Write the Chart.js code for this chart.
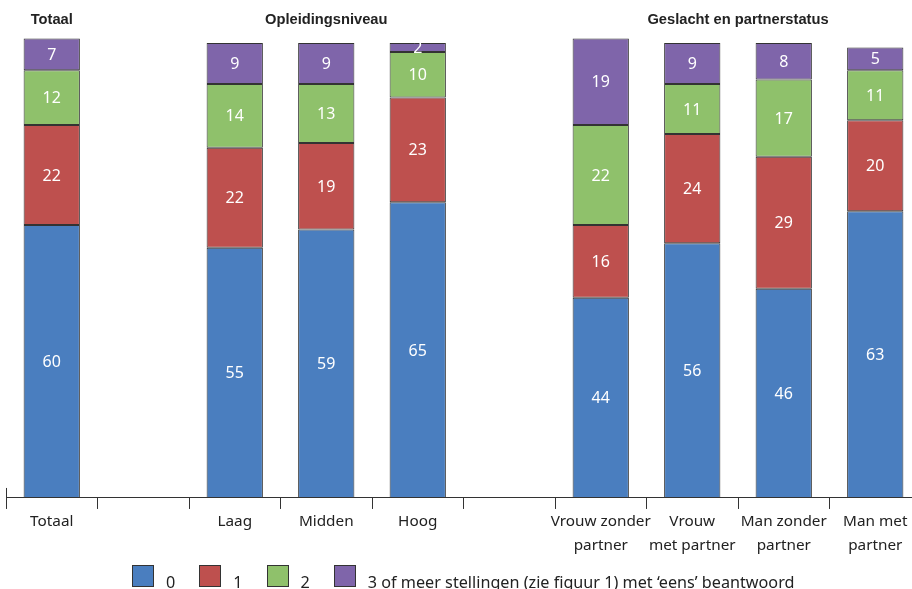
<!DOCTYPE html>
<html>
<head>
<meta charset="utf-8">
<script src="https://cdn.jsdelivr.net/npm/chart.js@4.4.1/dist/chart.umd.min.js"></script>
<style>
  html, body { margin: 0; padding: 0; background: #fff; overflow: hidden; }
  #wrap { position: relative; width: 921px; height: 589px; }
  #legend { position: absolute; left: 132px; top: 565px; display: flex; align-items: flex-start;
            font-family: "Noto Sans", sans-serif; font-size: 16.2px; color: #222; white-space: nowrap; }
  #legend .item { display: flex; align-items: flex-start; margin-right: 24px; }
  #legend .box { width: 20px; height: 20px; border: 1px solid #333; margin-right: 12px; }
  #legend .txt { line-height: 16px; margin-top: 9px; }
</style>
</head>
<body>
<div id="wrap">
  <canvas id="c" width="921" height="589"></canvas>
  <div id="legend"></div>
</div>
<script>
// Categories on the x axis (blank entries act as spacers between groups)
const categories = [
  'Totaal', '', 'Laag', 'Midden', 'Hoog', '',
  ['Vrouw zonder', 'partner'], ['Vrouw', 'met partner'], ['Man zonder', 'partner'], ['Man met', 'partner']
];

// Group headings and the category index they are centred on
const groupTitles = ['Totaal', 'Opleidingsniveau', 'Geslacht en partnerstatus'];
const groupCenters = [0, 3, 7.5];

// Share (%) per number of statements answered with 'eens'
const seriesNames = ['0', '1', '2', "3 of meer stellingen (zie figuur 1) met \u2018eens\u2019 beantwoord"];
const values0 = [60, null, 55, 59, 65, null, 44, 56, 46, 63];
const values1 = [22, null, 22, 19, 23, null, 16, 24, 29, 20];
const values2 = [12, null, 14, 13, 10, null, 22, 11, 17, 11];
const values3 = [7, null, 9, 9, 2, null, 19, 9, 8, 5];

const colors = ['#4a7ebf', '#be504e', '#8fc16b', '#7f65aa'];
const seriesValues = [values0, values1, values2, values3];

const FONT = '"Noto Sans", sans-serif';

const datasets = seriesValues.map((vals, i) => ({
  label: seriesNames[i],
  data: vals,
  backgroundColor: colors[i],
  borderColor: '#333',
  borderWidth: 1,
  borderSkipped: false,
  barPercentage: 0.615,
  categoryPercentage: 1,
  clip: false
}));

// White value labels in the middle of each segment
const valueLabels = {
  id: 'valueLabels',
  afterDatasetsDraw(chart) {
    const ctx = chart.ctx;
    ctx.save();
    ctx.fillStyle = '#fff';
    ctx.font = '16px ' + FONT;
    ctx.textAlign = 'center';
    ctx.textBaseline = 'middle';
    chart.data.datasets.forEach((ds, di) => {
      const meta = chart.getDatasetMeta(di);
      meta.data.forEach((el, i) => {
        const v = ds.data[i];
        if (v === null || v === undefined) return;
        ctx.fillText(String(v), el.x, (el.y + el.base) / 2 + 1);
      });
    });
    ctx.restore();
  }
};

// Group headings above the bars and the short stub at the axis origin
const decorations = {
  id: 'decorations',
  afterDraw(chart) {
    const ctx = chart.ctx;
    const xs = chart.scales.x;
    const area = chart.chartArea;
    ctx.save();
    ctx.fillStyle = '#222';
    ctx.font = 'bold 14.7px "Liberation Sans", Arial, sans-serif';
    ctx.textAlign = 'center';
    ctx.textBaseline = 'middle';
    groupTitles.forEach((t, i) => {
      const c = groupCenters[i];
      const lo = Math.floor(c), hi = Math.ceil(c);
      const x = (xs.getPixelForValue(lo) + xs.getPixelForValue(hi)) / 2;
      ctx.fillText(t, x, 20);
    });
    ctx.strokeStyle = '#333';
    ctx.lineWidth = 1;
    ctx.beginPath();
    ctx.moveTo(Math.round(area.left) + 0.5, area.bottom - 10);
    ctx.lineTo(Math.round(area.left) + 0.5, area.bottom);
    ctx.stroke();
    ctx.restore();
  }
};

const chart = new Chart(document.getElementById('c'), {
  type: 'bar',
  data: { labels: categories, datasets },
  options: {
    responsive: false,
    animation: false,
    layout: { padding: { left: 6, right: 0, top: 43, bottom: 30 } },
    plugins: {
      legend: { display: false },
      tooltip: { enabled: false }
    },
    scales: {
      x: {
        stacked: true,
        offset: true,
        border: { display: true, color: '#333', width: 1 },
        grid: { display: true, drawOnChartArea: false, drawTicks: true, tickLength: 11, color: '#333', offset: true },
        ticks: { color: '#222', padding: 1, maxRotation: 0, autoSkip: false,
                 font: { family: FONT, size: 15.3, lineHeight: 1.57 } }
      },
      y: {
        stacked: true,
        display: false,
        min: 0,
        max: 100
      }
    }
  },
  plugins: [valueLabels, decorations]
});

// Legend built from the dataset names and colours
const legend = document.getElementById('legend');
datasets.forEach(ds => {
  const item = document.createElement('div');
  item.className = 'item';
  const box = document.createElement('div');
  box.className = 'box';
  box.style.background = ds.backgroundColor;
  const txt = document.createElement('span');
  txt.className = 'txt';
  txt.textContent = ds.label;
  item.appendChild(box);
  item.appendChild(txt);
  legend.appendChild(item);
});
</script>
</body>
</html>
